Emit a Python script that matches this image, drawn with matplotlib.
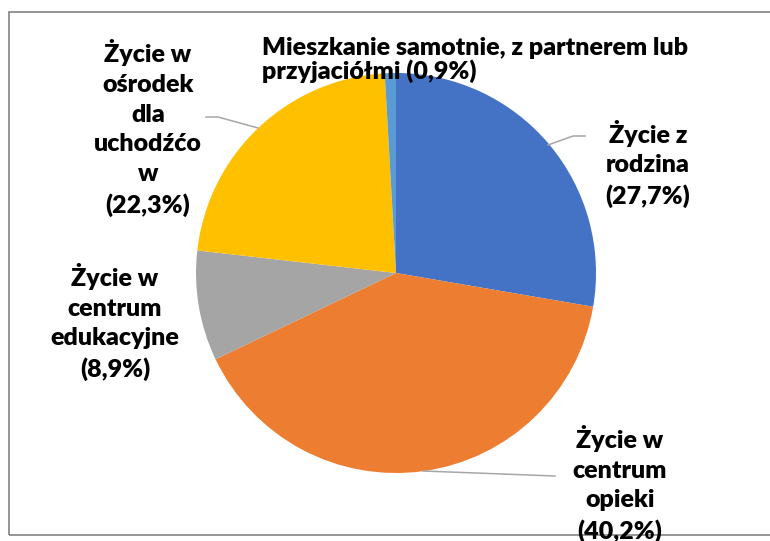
import matplotlib.pyplot as plt
from matplotlib.patches import Rectangle

W, H = 770, 541

# ── Data ──────────────────────────────────────────
categories = ["Życie z rodzina",
              "Życie w centrum opieki",
              "Życie w centrum edukacyjne",
              "Życie w ośrodek dla uchodźców",
              "Mieszkanie samotnie, z partnerem lub przyjaciółmi"]
shares = [27.7, 40.2, 8.9, 22.3, 0.9]
slice_colors = ["#4472C4", "#ED7D31", "#A5A5A5", "#FFC000", "#5B9BD5"]

# labels as wrapped in the chart
label_texts = ["Życie z\nrodzina\n(27,7%)",
               "Życie w\ncentrum\nopieki\n(40,2%)",
               "Życie w\ncentrum\nedukacyjne\n(8,9%)",
               "Życie w\nośrodek\ndla\nuchodźćo\nw\n(22,3%)",
               "Mieszkanie samotnie, z partnerem lub\nprzyjaciółmi (0,9%)"]


def py(y):
    # pixel row (from top) -> data y
    return H - y


fig = plt.figure(figsize=(W / 100, H / 100), dpi=100)
ax = fig.add_axes([0, 0, 1, 1])

ax.pie(shares, colors=slice_colors, startangle=90, counterclock=False,
       center=(396, py(273)), radius=200,
       wedgeprops=dict(linewidth=0))

ax.set_xlim(0, W)
ax.set_ylim(0, H)
ax.set_aspect("equal")
ax.axis("off")

# chart border
ax.add_patch(Rectangle((9, py(535)), 800, 523, fill=False,
                       edgecolor="#8C8C8C", linewidth=1.3, zorder=1))

# ── Leader lines ──────────────────────────────────
lc = "#A6A6A6"
ax.plot([206, 218, 258], [py(117), py(117), py(128)], color=lc, lw=1.1)
ax.plot([548, 573, 585], [py(145), py(136), py(136)], color=lc, lw=1.1)
ax.plot([423, 555], [py(471), py(476)], color=lc, lw=1.1)

# ── Labels ────────────────────────────────────────
font = dict(family="Lato", fontweight="heavy", fontsize=18, color="black")
ax.text(648, py(164), label_texts[0], ha="center", va="center",
        linespacing=1.42, **font)
ax.text(620, py(484), label_texts[1], ha="center", va="center",
        linespacing=1.42, zorder=3, **font)
ax.text(115, py(322), label_texts[2], ha="center", va="center",
        linespacing=1.42, **font)
ax.text(148, py(128), label_texts[3], ha="center", va="center",
        linespacing=1.42, **font)
ax.text(262, py(60), label_texts[4], ha="left", va="center",
        linespacing=1.05, **font)

fig.savefig("out.png", dpi=100)
